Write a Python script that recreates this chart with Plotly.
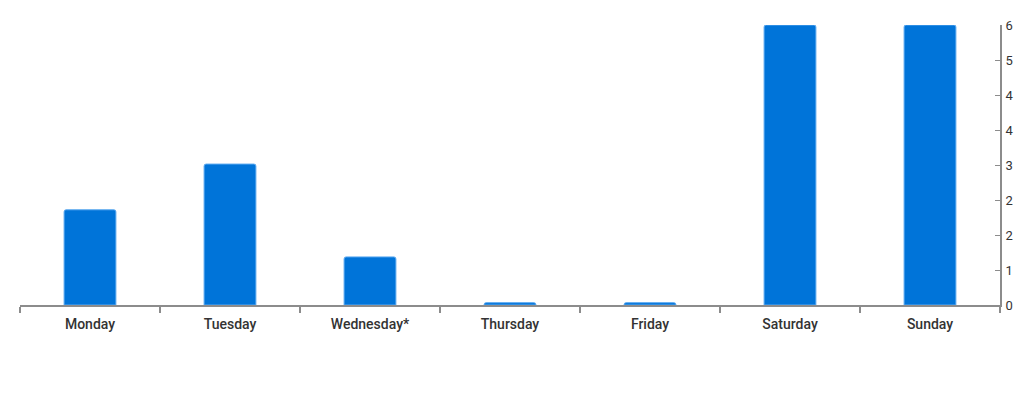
import plotly.graph_objects as go

days = ["Monday", "Tuesday", "Wednesday*", "Thursday", "Friday", "Saturday", "Sunday"]
values = [2.04, 3.02, 1.03, 0.05, 0.05, 6.0, 6.0]
y_ticks = [0, 0.75, 1.5, 2.25, 3, 3.75, 4.5, 5.25, 6]
y_labels = [str(round(v)) for v in y_ticks]

fig = go.Figure()
fig.add_trace(go.Bar(
    x=days, y=values,
    marker=dict(color="#0074D9", line=dict(color="#5AA8F0", width=1)),
    width=0.37,
))

# page body adds 8px offset, so the figure is kept inside the window
fig.update_layout(
    width=1008, height=384,
    margin=dict(l=12, r=16, t=17, b=87, autoexpand=False),
    plot_bgcolor="white", paper_bgcolor="white",
    font=dict(family="Roboto", size=14, color="#333333"),
    showlegend=False,
    barcornerradius=2,
)
fig.update_xaxes(
    showline=True, linecolor="#8c8c8c", linewidth=2,
    ticks="outside", ticklen=6, tickcolor="#8c8c8c", tickwidth=2,
    tickson="boundaries", showgrid=False,
    ticklabelstandoff=5,
    tickfont=dict(size=14, color="#333333", weight=500),
)
fig.update_yaxes(
    side="right", range=[0, 6],
    tickvals=y_ticks, ticktext=y_labels,
    showline=True, linecolor="#8c8c8c", linewidth=2,
    ticks="inside", ticklen=5, tickcolor="#8c8c8c", tickwidth=1,
    showgrid=False, zeroline=False,
    ticklabelstandoff=1,
    tickfont=dict(size=13, color="#333333"),
)

fig.write_html("out.html")
